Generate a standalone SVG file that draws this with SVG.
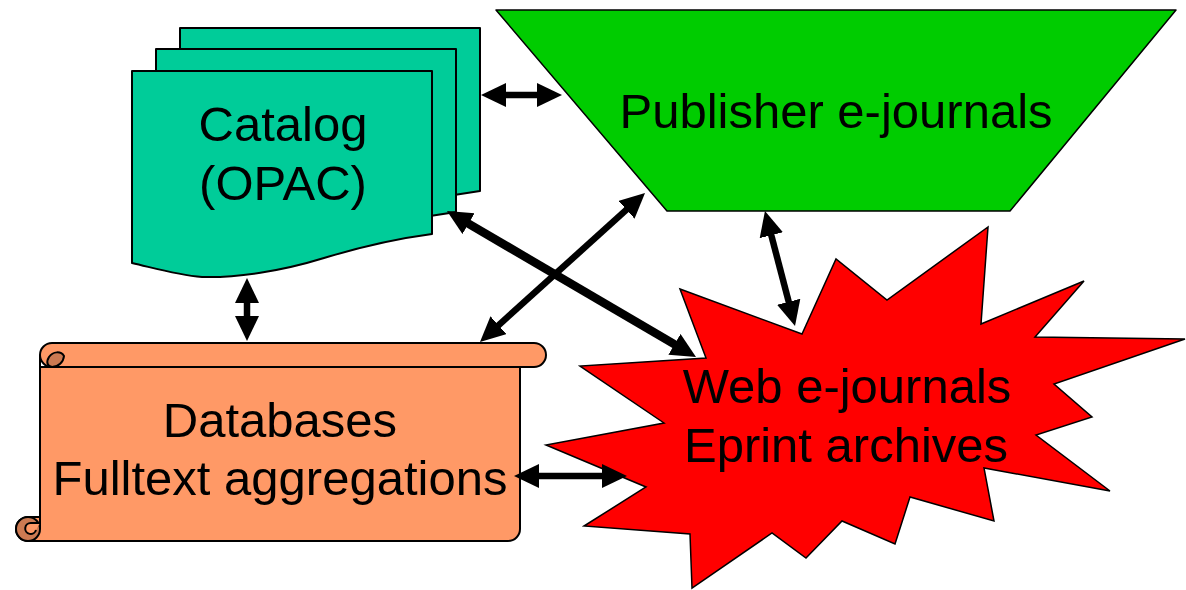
<svg xmlns="http://www.w3.org/2000/svg" xmlns:xlink="http://www.w3.org/1999/xlink" width="1186" height="590" viewBox="0 0 1186 590">
<style>
.lbl{font-family:"Liberation Sans",Arial,sans-serif;font-size:49px;fill:#000;text-anchor:middle}
.doc{fill:#00CC99;stroke:#000;stroke-width:2;stroke-linejoin:round}
.scroll{fill:#FF9966;stroke:#000;stroke-width:2;stroke-linejoin:round}
.curl{fill:#CC7A52;stroke:#000;stroke-width:2;stroke-linejoin:round}
.conn{stroke:#000;stroke-width:6.5;fill:none;marker-start:url(#ah);marker-end:url(#ah)}
</style>
<defs>
<marker id="ah" markerUnits="userSpaceOnUse" markerWidth="32" markerHeight="32" refX="15" refY="12" orient="auto-start-reverse">
<path d="M0,0 L25,12 L0,24 Z" fill="#000"/>
</marker>
<path id="docshape" d="M0,0 H300 V163 C262,168 228,176 192,187 C150,200 105,207 70,206 C45,204 22,197 0,192 Z"/>
</defs>

<g id="catalog">
<use xlink:href="#docshape" class="doc" transform="translate(180,28)"/>
<use xlink:href="#docshape" class="doc" transform="translate(156,49)"/>
<use xlink:href="#docshape" class="doc" transform="translate(132,71)"/>
<text class="lbl" x="283" y="141">Catalog</text>
<text class="lbl" x="283" y="200">(OPAC)</text>
</g>

<g id="publisher">
<polygon points="496,10 1176,10 1010,211 667,211" fill="#00CC00" stroke="#000" stroke-width="1.5" stroke-linejoin="round"/>
<text class="lbl" x="836" y="128">Publisher e-journals</text>
</g>

<g id="web">
<polygon points="680,289 802,334 836,259 887,300 988,227 981,324 1084,281 1035,337 1185,339 1054,384 1092,417 1036,435 1110,491 984,468 994,521 910,497 895,544 842,521 806,558 772,533 692,588 690,534 584,526 646,487 546,445 664,423 580,366 706,358" fill="#FF0000" stroke="#000" stroke-width="1.5" stroke-linejoin="miter"/>
<text class="lbl" x="847" y="403">Web e-journals</text>
<text class="lbl" x="846" y="462">Eprint archives</text>
</g>

<g id="databases">
<path class="scroll" d="M40,367 H520 V529 A12,12 0 0 1 508,541 H28 A12,12 0 0 1 16,529 A12,12 0 0 1 28,517 H40 Z"/>
<path class="scroll" d="M52,343 H534 A12,12 0 0 1 534,367 H52 A12,12 0 0 1 52,343 Z"/>
<path class="curl" d="M52,367 A12,12 0 0 0 64,356 C61,351 53,351 49,357 C46,362 47,366 52,367 Z"/>
<path d="M40,355 V529" stroke="#000" stroke-width="2" fill="none"/>
<circle class="curl" cx="28" cy="529" r="12"/>
<path d="M40,523 H31 A5.5,5.5 0 1 0 36,530" stroke="#000" stroke-width="2" fill="#FF9966"/>
<path d="M40,517 V523" stroke="#000" stroke-width="2"/>
<text class="lbl" x="280" y="437">Databases</text>
<text class="lbl" x="280" y="495">Fulltext aggregations</text>
</g>

<g id="connectors">
<line class="conn" x1="491" y1="95" x2="552" y2="95"/>
<line class="conn" x1="247" y1="288" x2="247" y2="331"/>
<line class="conn" x1="637.6" y1="199.7" x2="487.4" y2="335.3"/>
<line class="conn" x1="455.6" y1="216.1" x2="687.4" y2="351.9" style="stroke-width:8.5"/>
<line class="conn" x1="767.5" y1="220.7" x2="792.5" y2="316.3"/>
<line class="conn" x1="524" y1="476" x2="617" y2="476"/>
</g>
</svg>
